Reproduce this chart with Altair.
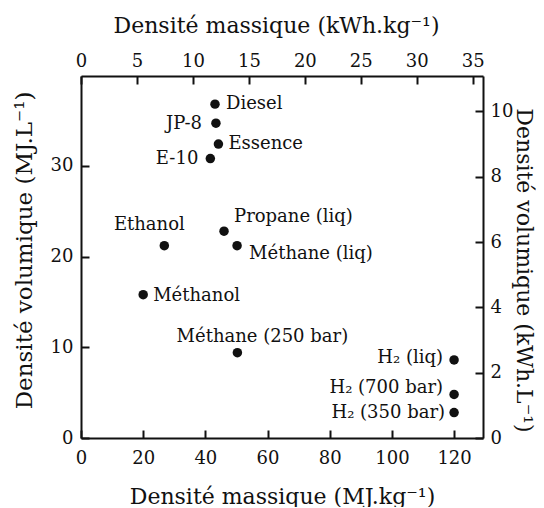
import altair as alt
import pandas as pd

# ---- data ----
names = ["Diesel", "JP-8", "Essence", "E-10", "Ethanol", "Propane (liq)",
         "Méthane (liq)", "Méthanol", "Méthane (250 bar)",
         "H₂ (liq)", "H₂ (700 bar)", "H₂ (350 bar)"]
mj_kg = [43.1, 43.4, 44.2, 41.6, 26.8, 46.0, 50.2, 20.0, 50.3, 120.0, 120.0, 120.0]
mj_l = [36.8, 34.7, 32.4, 30.8, 21.2, 22.8, 21.2, 15.8, 9.4, 8.6, 4.8, 2.8]

x_ticks = [0, 20, 40, 60, 80, 100, 120]
y_ticks = [0, 10, 20, 30]
top_ticks = [0, 5, 10, 15, 20, 25, 30, 35]
right_ticks = [0, 2, 4, 6, 8, 10]

X_MAX = 129.3
Y_MAX = 39.9
KWH = 3.6

# label placement (align, dx, dy) -- styling, kept apart from the data
placement = {
    "Diesel": ("left", 11, 0),
    "JP-8": ("right", -14, 1),
    "Essence": ("left", 10, 0),
    "E-10": ("right", -12, 0),
    "Ethanol": ("center", -15, -21),
    "Propane (liq)": ("left", 10, -14),
    "Méthane (liq)": ("left", 12, 8),
    "Méthanol": ("left", 10, 1),
    "Méthane (250 bar)": ("center", 25, -16),
    "H₂ (liq)": ("right", -11, -2),
    "H₂ (700 bar)": ("right", -11, -6),
    "H₂ (350 bar)": ("right", -9, 0),
}

df = pd.DataFrame({"name": names, "mj_kg": mj_kg, "mj_l": mj_l})

FONT = "DejaVu Serif"
INK = "#111111"
W, H = 402, 362

common_axis = dict(
    domainColor=INK, domainWidth=2, tickColor=INK, tickWidth=2,
    tickSize=alt.ExprRef(expr="-8"), labelFont=FONT, labelFontSize=18,
    labelColor=INK, titleFont=FONT, titleFontWeight="normal",
    titleColor=INK, grid=False, labelFlush=False, titleBaseline="alphabetic",
)

x_bottom = alt.X("mj_kg:Q",
                 scale=alt.Scale(domain=[0, X_MAX], nice=False, zero=False),
                 axis=alt.Axis(orient="bottom", values=x_ticks,
                               title="Densité massique (MJ.kg⁻¹)",
                               labelPadding=19, titleY=65, titleFontSize=22,
                               **common_axis))
y_left = alt.Y("mj_l:Q",
               scale=alt.Scale(domain=[0, Y_MAX], nice=False, zero=False),
               axis=alt.Axis(orient="left", values=y_ticks,
                             title="Densité volumique (MJ.L⁻¹)",
                             labelPadding=16, titleX=-50, titleY=174,
                             titleFontSize=23, **common_axis))

base = alt.Chart(df)
points = base.mark_circle(size=90, color=INK, opacity=1).encode(x=x_bottom, y=y_left)

text_layers = []
for nm in names:
    align, dx, dy = placement[nm]
    text_layers.append(
        base.transform_filter(alt.datum.name == nm)
        .mark_text(align=align, baseline="middle", dx=dx, dy=dy,
                   font=FONT, fontSize=18, color=INK)
        .encode(x=x_bottom, y=y_left, text="name:N")
    )

primary = alt.layer(points, *text_layers)

secondary = base.transform_calculate(
    kwh_kg=f"datum.mj_kg / {KWH}", kwh_l=f"datum.mj_l / {KWH}"
).mark_point(opacity=0).encode(
    x=alt.X("kwh_kg:Q",
            scale=alt.Scale(domain=[0, X_MAX / KWH], nice=False, zero=False),
            axis=alt.Axis(orient="top", values=top_ticks,
                          title="Densité massique (kWh.kg⁻¹)",
                          labelPadding=13.5, titleY=-44, titleX=195,
                          titleFontSize=22, **common_axis)),
    y=alt.Y("kwh_l:Q",
            scale=alt.Scale(domain=[0, Y_MAX / KWH], nice=False, zero=False),
            axis=alt.Axis(orient="right", values=right_ticks,
                          title="Densité volumique (kWh.L⁻¹)",
                          labelPadding=15, titleX=33, titleY=194,
                          titleFontSize=22, **common_axis)),
)

chart = alt.layer(primary, secondary).resolve_scale(
    x="independent", y="independent"
).properties(
    width=W, height=H,
    autosize=alt.AutoSizeParams(type="none"),
    padding={"left": 73, "top": 68, "right": 53, "bottom": 69},
    background="white",
).configure_view(stroke=None)

chart.save("out.html", embed_options={"renderer": "svg", "actions": False})
